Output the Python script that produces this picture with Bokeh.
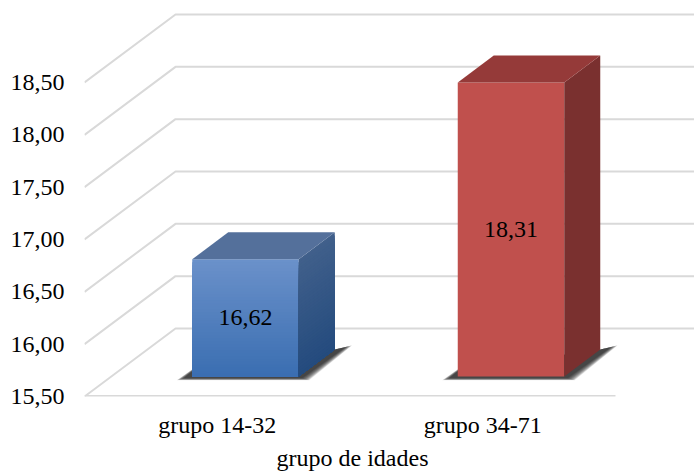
from bokeh.plotting import figure
from bokeh.models import FixedTicker, LinearAxis
from bokeh.core.properties import value
from bokeh.embed import file_html
from bokeh.resources import INLINE

categories = ["grupo 14-32", "grupo 34-71"]
means = [16.62, 18.31]
mean_labels = ["16,62", "18,31"]
tick_values = [15.5, 16.0, 16.5, 17.0, 17.5, 18.0, 18.5]
tick_labels = ["15,50", "16,00", "16,50", "17,00", "17,50", "18,00", "18,50"]
x_title = "grupo de idades"

FONT = "Times New Roman"
FS = "24px"
W, H = 694, 473
FRAME_L, FRAME_B = 84, 396          # figure pixels
PX_PER_X = 265.5
PX_PER_Y = 104.67
XMAX = (W - FRAME_L) / PX_PER_X
YMAX = 15.5 + FRAME_B / PX_PER_Y


def px(v):
    return v / PX_PER_X


def py(v):
    return v / PX_PER_Y


p = figure(width=W, height=H, output_backend="svg", toolbar_location=None,
           x_range=(0, XMAX), y_range=(15.5, YMAX),
           min_border_left=FRAME_L, min_border_right=0, min_border_top=0,
           min_border_bottom=H - FRAME_B)
p.outline_line_color = None
p.grid.visible = False
p.background_fill_color = "white"
p.border_fill_color = "white"

TITLE_X = px(268)
title_axis = LinearAxis()
p.add_layout(title_axis, "below")

for ax, ticks, over in ((p.yaxis[0], tick_values, dict(zip(tick_values, tick_labels))),
                        (p.xaxis[0], [0.5, 1.5], dict(zip([0.5, 1.5], categories))),
                        (title_axis, [TITLE_X], {TITLE_X: x_title})):
    ax.ticker = FixedTicker(ticks=ticks)
    ax.major_label_overrides = over
    ax.axis_line_color = None
    ax.major_tick_line_color = None
    ax.minor_tick_line_color = None
    ax.major_tick_out = 0
    ax.major_tick_in = 0
    ax.major_label_text_font = FONT
    ax.major_label_text_font_size = FS
    ax.major_label_text_color = "#000000"
p.yaxis[0].major_label_standoff = 20
p.xaxis[0].major_label_standoff = 15
title_axis.major_label_standoff = 4

# Walls: diagonal + back line for each tick
DX, DY = px(91), py(68)
GRID = "#d9d9d9"
xs, ys = [], []
for t in tick_values:
    xs.append([0, DX, XMAX])
    ys.append([t, t + DY, t + DY])
p.multi_line(xs, ys, line_color=GRID, line_width=2)
# Floor front edge
p.line([0, 2], [15.5, 15.5], line_color=GRID, line_width=3)


def lerp(c1, c2, t):
    return "#%02x%02x%02x" % tuple(round(a + (b - a) * t) for a, b in zip(c1, c2))


STYLES = [
    dict(front=((0x6b, 0x91, 0xca), (0x3a, 0x6e, 0xb1)),
         side=((0x41, 0x60, 0x8b), (0x24, 0x4b, 0x7e)), top="#54709b", n=40),
    dict(front=((0xc0, 0x50, 0x4d), (0xc0, 0x50, 0x4d)),
         side=((0x7a, 0x30, 0x2f), (0x7a, 0x30, 0x2f)), top="#953a39", n=1),
]

BAR_W = px(106.5)
OFF_X, OFF_Y = px(28.25), py(20)
DEP_X, DEP_Y = px(36), py(27)

for i, v in enumerate(means):
    st = STYLES[i]
    N = st["n"]
    cx = i + 0.5 + OFF_X
    x0, x1 = cx - BAR_W / 2, cx + BAR_W / 2
    yb = 15.5 + OFF_Y
    yt = v + OFF_Y

    # Soft floor shadow, layered from wide/faint to tight/dark
    for k in range(16):
        g = (15 - k) * 0.5
        sx = [x0 - px(8 + g), x0, x1 + DEP_X, x1 + DEP_X + px(10 + g), x1 + px(3 + g), x0 - px(8 + g)]
        sy = [yb - py(1.5 + g * 0.3), yb + py(5 + g * 0.3), yb + DEP_Y,
              yb + DEP_Y + py(2 + g * 0.3), yb - py(1.5 + g * 0.3), yb - py(1.5 + g * 0.3)]
        p.patch(sx, sy, fill_color="#1a1a1a", fill_alpha=0.09, line_color=None)

    # Faces painted top to bottom, each layer reaching the base, so no seams show
    for k in range(N):
        a = yt - (yt - yb) * k / N
        c = lerp(*st["front"], (k + 0.5) / N)
        p.patch([x0, x1, x1, x0], [a, a, yb, yb], fill_color=c, line_color=None)
    for k in range(N):
        a = (yt - yb) * (1 - k / N)
        c = lerp(*st["side"], (k + 0.5) / N)
        p.patch([x1, x1 + DEP_X, x1 + DEP_X, x1],
                [yb + a, yb + a + DEP_Y, yb + DEP_Y, yb],
                fill_color=c, line_color=None)
    p.patch([x0, x1, x1 + DEP_X, x0 + DEP_X],
            [yt, yt, yt + DEP_Y, yt + DEP_Y],
            fill_color=st["top"], line_color=None)
    # Value label
    p.text([cx], [(yt + yb) / 2], text=[mean_labels[i]],
           text_font=value(FONT), text_font_size=FS, text_color="#000000",
           text_align="center", text_baseline="middle")

open("out.html", "w").write(file_html(p, INLINE))
